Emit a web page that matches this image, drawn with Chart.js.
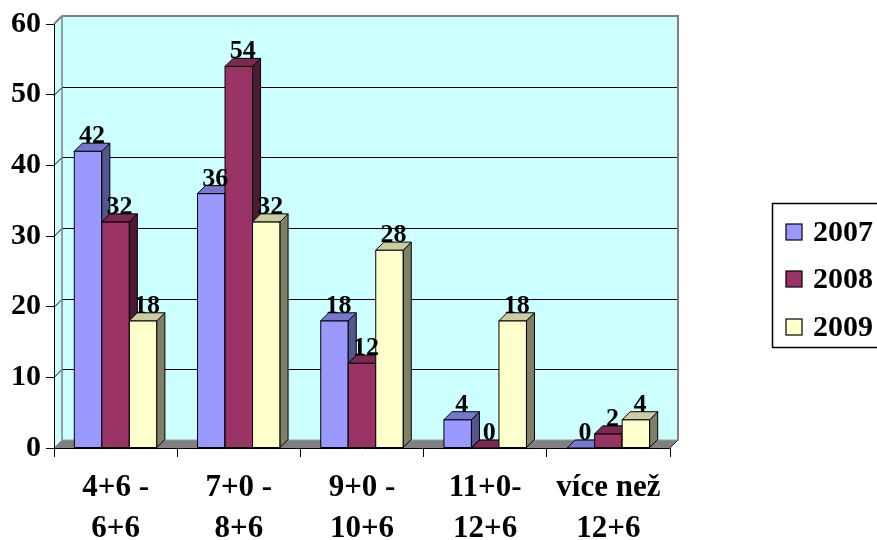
<!DOCTYPE html>
<html>
<head>
<meta charset="utf-8">
<title>Četnost podle intervalů</title>
<script src="https://cdn.jsdelivr.net/npm/chart.js@4.4.1/dist/chart.umd.min.js"></script>
<style>
  html, body { margin: 0; padding: 0; background: #ffffff; }
  canvas { display: block; }
</style>
</head>
<body>
<canvas id="chart" width="877" height="540"></canvas>
<script>
// Categories (two-line axis labels)
const categories = [
  ['4+6 -', '6+6'],
  ['7+0 -', '8+6'],
  ['9+0 -', '10+6'],
  ['11+0-', '12+6'],
  ['více než', '12+6']
];
const seriesNames = ['2007', '2008', '2009'];
const values2007 = [42, 36, 18, 4, 0];
const values2008 = [32, 54, 12, 0, 2];
const values2009 = [18, 32, 28, 18, 4];
const yTicks = [0, 10, 20, 30, 40, 50, 60];

// Styling
const FONT = "'Liberation Serif', 'Times New Roman', serif";
const DX = 8, DY = 8;                       // depth of the 3-D projection
const frontColors = ['#9999FF', '#993366', '#FFFFCC'];
const topColors   = ['#7777CC', '#7A2952', '#CCCCA3'];
const sideColors  = ['#55558F', '#4D1A33', '#808066'];
const WALL = '#CCFFFF', WALL_EDGE = '#808080', FLOOR = '#808080';

const wallPlugin = {
  id: 'wall3d',
  beforeDraw(chart) {
    const { ctx, chartArea: a, scales: { y } } = chart;
    ctx.save();
    // side wall
    ctx.fillStyle = WALL;
    ctx.beginPath();
    ctx.moveTo(a.left, a.top); ctx.lineTo(a.left + DX, a.top - DY);
    ctx.lineTo(a.left + DX, a.bottom - DY); ctx.lineTo(a.left, a.bottom);
    ctx.closePath(); ctx.fill();
    // back wall
    ctx.fillRect(a.left + DX, a.top - DY, a.right - a.left, a.bottom - a.top);
    // grid lines running over the side wall and the back wall
    ctx.strokeStyle = '#000'; ctx.lineWidth = 1;
    yTicks.forEach(v => {
      if (v === 0 || v === y.max) return;
      const py = Math.round(y.getPixelForValue(v)) + 0.5;
      ctx.beginPath();
      ctx.moveTo(a.left, py); ctx.lineTo(a.left + DX, py - DY);
      ctx.lineTo(a.right + DX, py - DY);
      ctx.stroke();
    });
    // wall edges
    ctx.strokeStyle = WALL_EDGE; ctx.lineWidth = 2;
    ctx.beginPath();
    ctx.moveTo(a.left, a.top); ctx.lineTo(a.left + DX, a.top - DY);
    ctx.lineTo(a.right + DX, a.top - DY); ctx.lineTo(a.right + DX, a.bottom - DY);
    ctx.stroke();
    ctx.lineWidth = 1.5;
    ctx.beginPath();
    ctx.moveTo(a.left + DX, a.top - DY); ctx.lineTo(a.left + DX, a.bottom - DY);
    ctx.stroke();
    // floor
    ctx.fillStyle = FLOOR;
    ctx.beginPath();
    ctx.moveTo(a.left, a.bottom); ctx.lineTo(a.left + DX, a.bottom - DY);
    ctx.lineTo(a.right + DX, a.bottom - DY); ctx.lineTo(a.right, a.bottom);
    ctx.closePath(); ctx.fill();
    ctx.strokeStyle = '#9a9a9a'; ctx.lineWidth = 1;
    ctx.beginPath();
    ctx.moveTo(a.left, a.bottom); ctx.lineTo(a.left + DX, a.bottom - DY);
    ctx.lineTo(a.right + DX, a.bottom - DY);
    ctx.stroke();
    ctx.strokeStyle = '#333';
    ctx.beginPath();
    ctx.moveTo(a.right, a.bottom); ctx.lineTo(a.right + DX, a.bottom - DY);
    ctx.stroke();
    ctx.restore();
  }
};

const barsPlugin = {
  id: 'bars3d',
  beforeDatasetsDraw(chart) {
    const ctx = chart.ctx;
    const nCat = chart.data.labels.length;
    const nSet = chart.data.datasets.length;
    ctx.save();
    ctx.strokeStyle = '#000';
    ctx.lineWidth = 1;
    ctx.lineJoin = 'miter';
    for (let j = 0; j < nCat; j++) {
      for (let i = 0; i < nSet; i++) {
        const el = chart.getDatasetMeta(i).data[j];
        const { x, y, base, width } = el.getProps(['x', 'y', 'base', 'width'], true);
        const l = x - width / 2, r = x + width / 2;
        // front face
        ctx.fillStyle = frontColors[i];
        ctx.beginPath();
        ctx.rect(l, y, width, base - y);
        ctx.fill(); ctx.stroke();
        // side face
        ctx.fillStyle = sideColors[i];
        ctx.beginPath();
        ctx.moveTo(r, base); ctx.lineTo(r + DX, base - DY);
        ctx.lineTo(r + DX, y - DY); ctx.lineTo(r, y);
        ctx.closePath(); ctx.fill(); ctx.stroke();
        // top face
        ctx.fillStyle = topColors[i];
        ctx.beginPath();
        ctx.moveTo(l, y); ctx.lineTo(l + DX, y - DY);
        ctx.lineTo(r + DX, y - DY); ctx.lineTo(r, y);
        ctx.closePath(); ctx.fill(); ctx.stroke();
      }
    }
    // value labels
    ctx.fillStyle = '#000';
    ctx.font = 'bold 26px ' + FONT;
    ctx.textAlign = 'center';
    ctx.textBaseline = 'alphabetic';
    for (let i = 0; i < nSet; i++) {
      const ds = chart.data.datasets[i];
      chart.getDatasetMeta(i).data.forEach((el, j) => {
        const { x, y } = el.getProps(['x', 'y'], true);
        ctx.fillText(String(ds.data[j]), x + DX / 2, y - 8);
      });
    }
    ctx.restore();
    return false;
  }
};

const legendPlugin = {
  id: 'legendBox',
  afterDraw(chart) {
    const ctx = chart.ctx;
    ctx.save();
    ctx.strokeStyle = '#000';
    ctx.lineWidth = 1.5;
    ctx.strokeRect(772.5, 203.5, 130, 144);
    ctx.font = 'bold 30px ' + FONT;
    ctx.textAlign = 'left';
    ctx.textBaseline = 'middle';
    const rows = [232, 279, 327];
    chart.data.datasets.forEach((ds, i) => {
      const cy = rows[i];
      ctx.fillStyle = frontColors[i];
      ctx.fillRect(786, cy - 8, 16, 16);
      ctx.lineWidth = 1.2;
      ctx.strokeRect(786, cy - 8, 16, 16);
      ctx.fillStyle = '#000';
      ctx.fillText(ds.label, 813, cy + 1);
    });
    ctx.restore();
  }
};

new Chart(document.getElementById('chart'), {
  type: 'bar',
  data: {
    labels: categories,
    datasets: [
      { label: seriesNames[0], data: values2007, backgroundColor: frontColors[0] },
      { label: seriesNames[1], data: values2008, backgroundColor: frontColors[1] },
      { label: seriesNames[2], data: values2009, backgroundColor: frontColors[2] }
    ]
  },
  options: {
    responsive: false,
    animation: false,
    devicePixelRatio: 1,
    layout: { padding: { top: 24, right: 207, left: 0, bottom: 0 } },
    datasets: { bar: { categoryPercentage: 0.67, barPercentage: 1 } },
    plugins: { legend: { display: false }, tooltip: { enabled: false } },
    scales: {
      x: {
        grid: { offset: true, drawOnChartArea: false, tickLength: 9, color: '#000', lineWidth: 1 },
        border: { color: '#000', width: 1 },
        ticks: {
          color: '#000', padding: 10, maxRotation: 0, autoSkip: false,
          font: { family: FONT, size: 31, weight: 'bold', lineHeight: '41px' }
        },
        afterFit(scale) { scale.height = 92; }
      },
      y: {
        min: 0, max: 60,
        afterBuildTicks(scale) { scale.ticks = yTicks.map(v => ({ value: v })); },
        grid: { drawOnChartArea: false, tickLength: 8, color: '#000', lineWidth: 1 },
        border: { color: '#000', width: 1 },
        ticks: {
          color: '#000', padding: 5,
          font: { family: FONT, size: 30, weight: 'bold' }
        },
        afterFit(scale) { scale.width = 54; }
      }
    }
  },
  plugins: [wallPlugin, barsPlugin, legendPlugin]
});
</script>
</body>
</html>
